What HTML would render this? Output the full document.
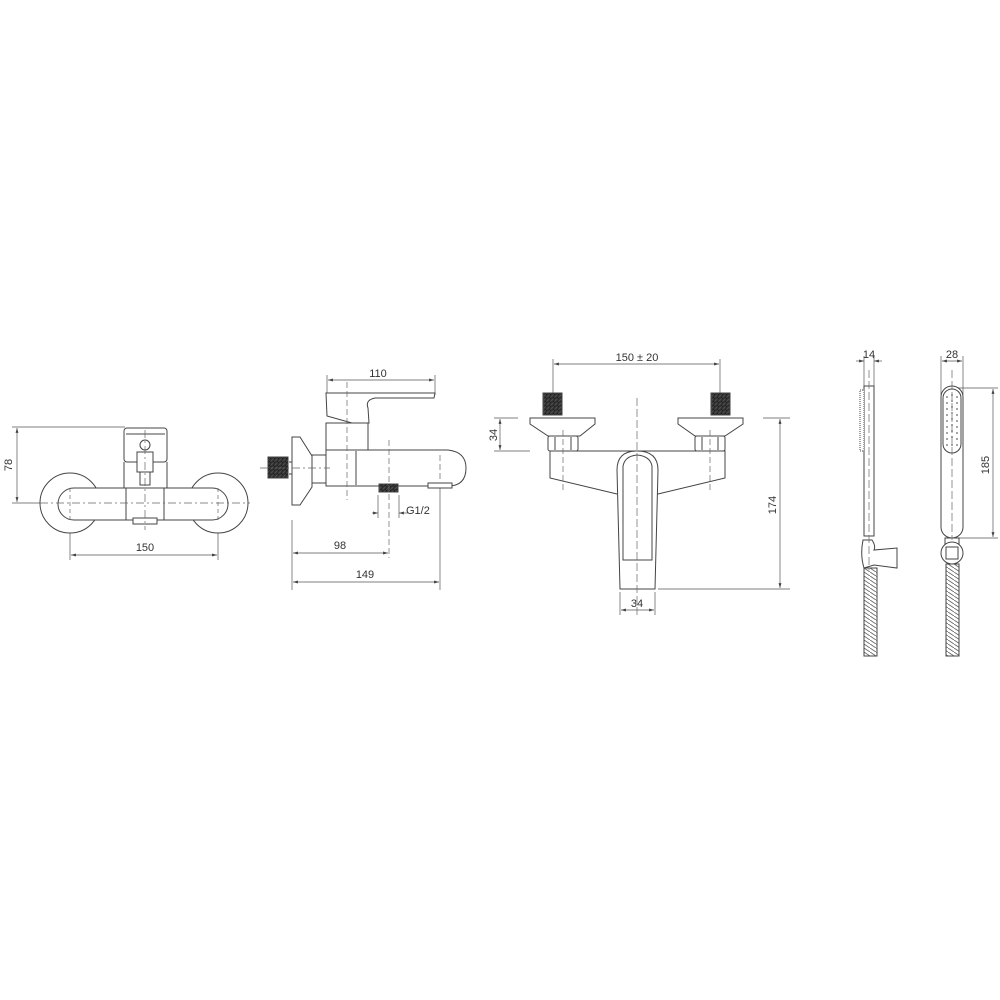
<!DOCTYPE html>
<html><head><meta charset="utf-8"><style>html,body{margin:0;padding:0;background:#fff}svg{display:block}</style></head><body>
<svg width="1000" height="1000" viewBox="0 0 1000 1000" xmlns="http://www.w3.org/2000/svg" font-family="Liberation Sans, sans-serif" font-size="11" fill="none" stroke="#444" stroke-width="1">
<defs>
<marker id="a" viewBox="0 0 10 10" refX="10" refY="5" markerWidth="7" markerHeight="7" orient="auto-start-reverse"><path d="M0,2 L10,5 L0,8 z" fill="#444" stroke="none"/></marker>
<pattern id="hose" width="6" height="4" patternUnits="userSpaceOnUse"><path d="M0,0 L6,4" stroke="#666" stroke-width="0.9"/></pattern>
<pattern id="thr" width="4" height="4" patternUnits="userSpaceOnUse"><rect width="4" height="4" fill="#1a1a1a"/><path d="M0,4 L4,0" stroke="#555" stroke-width="0.6"/></pattern>
</defs>
<g stroke-width="0.7" stroke="#555">
<line x1="12" y1="427" x2="125" y2="427"/><line x1="12" y1="503" x2="42" y2="503"/>
<line x1="17" y1="428" x2="17" y2="502" marker-start="url(#a)" marker-end="url(#a)"/>
<line x1="70" y1="505" x2="70" y2="560"/><line x1="218" y1="505" x2="218" y2="560"/>
<line x1="71" y1="555" x2="217" y2="555" marker-start="url(#a)" marker-end="url(#a)"/>
</g>
<text x="14" y="465" fill="#333" stroke="none" text-anchor="middle" transform="rotate(-90 14 465)" dy="-2">78</text>
<text x="145" y="551" fill="#333" stroke="none" text-anchor="middle">150</text>
<circle cx="70" cy="503" r="30" fill="#fff"/><circle cx="218" cy="503" r="30" fill="#fff"/>
<rect x="58" y="488" width="170" height="32" rx="16" fill="#fff"/>
<line x1="126" y1="488" x2="126" y2="520"/><line x1="164" y1="488" x2="164" y2="520"/>
<rect x="124" y="428" width="43" height="34" rx="3" fill="#fff"/>
<line x1="126" y1="434" x2="165" y2="434"/>
<path d="M124,462 L124,488 M167,462 L167,488"/>
<rect x="137" y="452" width="16" height="20" fill="#fff"/><rect x="140" y="472" width="10" height="13" fill="#fff"/>
<circle cx="145" cy="445" r="5" fill="#fff"/>
<rect x="133" y="518" width="24" height="6" fill="#fff"/>
<!-- View 2 -->
<g stroke-width="0.7" stroke="#555">
<line x1="327" y1="375" x2="327" y2="395"/><line x1="435" y1="375" x2="435" y2="395"/>
<line x1="328" y1="380" x2="434" y2="380" marker-start="url(#a)" marker-end="url(#a)"/>
<line x1="440" y1="475" x2="440" y2="590"/>
<line x1="292" y1="520" x2="292" y2="590"/>
<line x1="378" y1="495" x2="378" y2="518"/><line x1="399" y1="495" x2="399" y2="518"/>
<line x1="372" y1="513" x2="378" y2="513" marker-end="url(#a)"/><line x1="408" y1="513" x2="399" y2="513" marker-end="url(#a)"/>
<line x1="293" y1="553" x2="388" y2="553" marker-start="url(#a)" marker-end="url(#a)"/>
<line x1="293" y1="582" x2="439" y2="582" marker-start="url(#a)" marker-end="url(#a)"/>
</g>
<text x="378" y="377" fill="#333" stroke="none" text-anchor="middle">110</text>
<text x="406" y="514" fill="#333" stroke="none">G1/2</text>
<text x="340" y="549" fill="#333" stroke="none" text-anchor="middle">98</text>
<text x="365" y="578" fill="#333" stroke="none" text-anchor="middle">149</text>
<path d="M326,393 L435,393 L434,398 L375,398 Q365,400 368,408 L369,423 L352,423 L327,416 Z" fill="#fff"/>
<rect x="326" y="423" width="42" height="28" fill="#fff"/>
<path d="M326,450 L448,450 Q466,452 466,468 Q466,486 448,486 L326,486 Z" fill="#fff"/>
<line x1="356" y1="451" x2="356" y2="485"/>
<path d="M292,437 L300,437 L312,456 L312,487 L300,505 L292,505 Z" fill="#fff"/>
<rect x="312" y="455" width="14" height="28" fill="#fff"/>
<line x1="289" y1="462" x2="292" y2="462"/><line x1="289" y1="474" x2="292" y2="474"/>
<rect x="268" y="457" width="20" height="21" fill="url(#thr)"/>
<rect x="379" y="484" width="19" height="8" fill="url(#thr)"/>
<rect x="428" y="483" width="24" height="5" fill="#fff"/>
<!-- View 3 -->
<g stroke-width="0.7" stroke="#555">
<line x1="553" y1="359" x2="553" y2="395"/><line x1="720" y1="359" x2="720" y2="395"/>
<line x1="554" y1="364" x2="719" y2="364" marker-start="url(#a)" marker-end="url(#a)"/>
<line x1="494" y1="418" x2="518" y2="418"/><line x1="494" y1="451" x2="530" y2="451"/>
<line x1="500" y1="419" x2="500" y2="450" marker-start="url(#a)" marker-end="url(#a)"/>
<line x1="763" y1="418" x2="790" y2="418"/><line x1="658" y1="589" x2="790" y2="589"/>
<line x1="780" y1="419" x2="780" y2="588" marker-start="url(#a)" marker-end="url(#a)"/>
<line x1="620" y1="592" x2="620" y2="615"/><line x1="655" y1="592" x2="655" y2="615"/>
<line x1="621" y1="610" x2="654" y2="610" marker-start="url(#a)" marker-end="url(#a)"/>
</g>
<text x="637" y="361" fill="#333" stroke="none" text-anchor="middle">150 ± 20</text>
<text x="493" y="435" fill="#333" stroke="none" text-anchor="middle" transform="rotate(-90 493 435)" dy="4">34</text>
<text x="772" y="505" fill="#333" stroke="none" text-anchor="middle" transform="rotate(-90 772 505)" dy="4">174</text>
<text x="637" y="607" fill="#333" stroke="none" text-anchor="middle">34</text>
<rect x="543" y="393" width="19" height="22" fill="url(#thr)"/><rect x="711" y="393" width="19" height="22" fill="url(#thr)"/>
<path d="M530,418 L595,418 L595,424 L580,436 L548,436 L530,424 Z" fill="#fff"/>
<path d="M678,418 L743,418 L743,424 L725,436 L695,436 L678,424 Z" fill="#fff"/>
<rect x="548" y="436" width="30" height="15" rx="2" fill="#fff"/><rect x="695" y="436" width="30" height="15" rx="2" fill="#fff"/>
<line x1="555" y1="437" x2="555" y2="450"/><line x1="571" y1="437" x2="571" y2="450"/>
<line x1="702" y1="437" x2="702" y2="450"/><line x1="718" y1="437" x2="718" y2="450"/>
<path d="M550,451 L725,451 L725,478 L658,494 L617,494 L550,478 Z" fill="#fff"/>
<path d="M617,470 Q617,451 637,451 Q658,451 658,470 L655,589 L620,589 Z" fill="#fff"/>
<path d="M623,466 Q625,456 637,455 Q650,456 652,466 L652,560 L623,560 Z" fill="#fff"/>
<!-- View 4 -->
<g stroke-width="0.7" stroke="#555">
<line x1="864" y1="356" x2="864" y2="386"/><line x1="874" y1="356" x2="874" y2="386"/>
<line x1="856" y1="361" x2="864" y2="361" marker-end="url(#a)"/><line x1="882" y1="361" x2="874" y2="361" marker-end="url(#a)"/>
<line x1="941" y1="356" x2="941" y2="395"/><line x1="963" y1="356" x2="963" y2="395"/>
<line x1="942" y1="361" x2="962" y2="361" marker-start="url(#a)" marker-end="url(#a)"/>
<line x1="955" y1="388" x2="998" y2="388"/><line x1="955" y1="538" x2="998" y2="538"/>
<line x1="993" y1="389" x2="993" y2="537" marker-start="url(#a)" marker-end="url(#a)"/>
</g>
<text x="869" y="358" fill="#333" stroke="none" text-anchor="middle">14</text>
<text x="952" y="358" fill="#333" stroke="none" text-anchor="middle">28</text>
<text x="985" y="465" fill="#333" stroke="none" text-anchor="middle" transform="rotate(-90 985 465)" dy="4">185</text>
<rect x="864" y="386" width="10" height="150" fill="#fff"/>
<rect x="860" y="390" width="4" height="61" fill="#fff" stroke-dasharray="1,1"/>
<path d="M863,540 L872,540 Q876,546 874,550 L897,548 L897,568 L874,565 L864,568 Q860,555 863,540 Z" fill="#fff"/>
<rect x="864" y="568" width="13" height="88" fill="url(#hose)"/>
<line x1="864" y1="568" x2="864" y2="656"/><line x1="877" y1="568" x2="877" y2="656"/>
<rect x="941" y="386" width="22" height="152" rx="11" fill="#fff"/>
<rect x="943" y="389" width="18" height="64" rx="9" fill="#fff"/>
<g fill="#666" stroke="none">
<circle cx="947" cy="397" r="0.9"/><circle cx="952" cy="395" r="0.9"/><circle cx="957" cy="397" r="0.9"/>
<circle cx="947" cy="403" r="0.9"/><circle cx="952" cy="401" r="0.9"/><circle cx="957" cy="403" r="0.9"/>
<circle cx="947" cy="409" r="0.9"/><circle cx="952" cy="407" r="0.9"/><circle cx="957" cy="409" r="0.9"/>
<circle cx="947" cy="415" r="0.9"/><circle cx="952" cy="413" r="0.9"/><circle cx="957" cy="415" r="0.9"/>
<circle cx="947" cy="421" r="0.9"/><circle cx="952" cy="419" r="0.9"/><circle cx="957" cy="421" r="0.9"/>
<circle cx="947" cy="427" r="0.9"/><circle cx="952" cy="425" r="0.9"/><circle cx="957" cy="427" r="0.9"/>
<circle cx="947" cy="433" r="0.9"/><circle cx="952" cy="431" r="0.9"/><circle cx="957" cy="433" r="0.9"/>
<circle cx="947" cy="439" r="0.9"/><circle cx="952" cy="437" r="0.9"/><circle cx="957" cy="439" r="0.9"/>
<circle cx="952" cy="445" r="0.9"/><circle cx="947" cy="445" r="0.9"/><circle cx="957" cy="445" r="0.9"/>
</g>
<rect x="945" y="538" width="14" height="6" fill="#fff"/>
<circle cx="952" cy="553" r="11" fill="#fff"/>
<rect x="946" y="547" width="12" height="12" fill="#fff"/>
<rect x="946" y="564" width="13" height="92" fill="url(#hose)"/>
<line x1="946" y1="564" x2="946" y2="656"/><line x1="959" y1="564" x2="959" y2="656"/>
<!-- centre lines on top -->
<g stroke-width="0.7" stroke="#666">
<line x1="40" y1="503" x2="250" y2="503" stroke-dasharray="8,3,2,3"/>
<line x1="145" y1="430" x2="145" y2="530" stroke-dasharray="8,3,2,3"/>
<line x1="70" y1="488" x2="70" y2="520" stroke-dasharray="4,3"/><line x1="218" y1="488" x2="218" y2="520" stroke-dasharray="4,3"/>
<line x1="347" y1="382" x2="347" y2="500" stroke-dasharray="6,3"/>
<line x1="389" y1="440" x2="389" y2="558" stroke-dasharray="6,3"/>
<line x1="440" y1="455" x2="440" y2="480" stroke-dasharray="6,3"/>
<line x1="260" y1="468" x2="330" y2="468" stroke-dasharray="8,3,2,3"/>
<line x1="637" y1="398" x2="637" y2="618" stroke-dasharray="8,3"/>
<line x1="563" y1="430" x2="563" y2="492" stroke-dasharray="6,3"/><line x1="710" y1="430" x2="710" y2="492" stroke-dasharray="6,3"/>
<line x1="869" y1="370" x2="869" y2="570" stroke-dasharray="8,3"/>
<line x1="952" y1="370" x2="952" y2="540" stroke-dasharray="8,3"/>
</g>
</svg>
</body></html>
